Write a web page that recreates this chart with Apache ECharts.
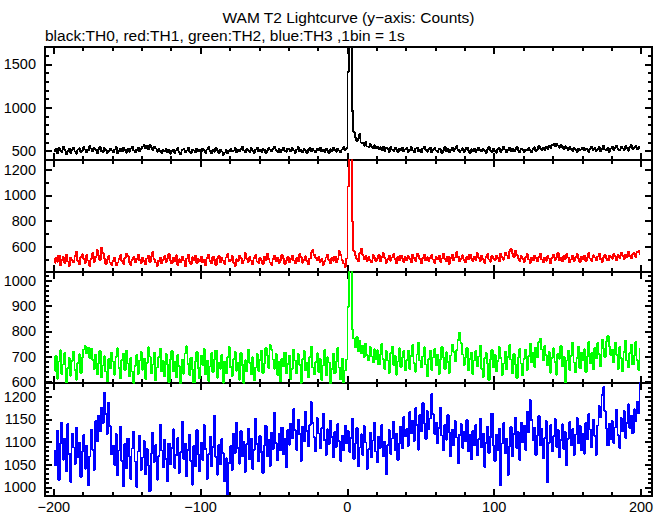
<!DOCTYPE html>
<html>
<head>
<meta charset="utf-8">
<script src="https://cdn.jsdelivr.net/npm/echarts@6/dist/echarts.min.js"></script>
<style>html,body{margin:0;padding:0;background:#fff}#c{width:669px;height:515px}#c svg path{shape-rendering:crispEdges}</style>
</head>
<body>
<div id="c"></div>
<script>
// ---- data (1 s bins, first bin starts at t = -200 s) ----
const binStart = -200;
const binWidth = 1;

const th0 = [
492,521,476,535,508,486,547,515,463,501,526,479,512,538,494,468,516,531,488,503,
542,517,482,509,556,528,495,536,511,471,522,549,500,490,533,510,478,497,529,504,
484,515,543,470,499,524,494,537,509,480,519,491,530,548,506,485,514,539,493,521,
553,571,534,562,518,567,541,512,549,529,492,520,502,476,514,495,525,486,508,469,
497,517,474,505,532,488,461,511,524,482,503,540,494,475,518,506,487,527,497,513,
489,530,508,480,517,543,500,471,511,491,532,503,478,515,494,455,484,509,470,497,
521,493,506,535,482,511,496,524,547,504,486,519,509,490,532,500,478,517,540,496,
508,489,527,512,475,503,535,516,494,523,553,511,491,520,482,509,541,501,490,529,
514,493,533,504,479,517,544,497,509,486,525,501,476,512,537,494,521,506,484,528,
504,541,496,516,489,530,509,480,521,500,536,512,491,526,504,484,518,545,513,535,
1410,1820,1760,960,715,652,612,646,695,598,588,561,602,551,546,579,548,533,566,527,
552,521,543,510,549,503,536,526,492,545,518,500,538,514,487,530,509,541,494,520,
533,491,515,546,505,482,526,540,497,514,488,530,550,509,492,521,538,481,512,532,
506,490,527,515,474,507,543,498,521,484,511,536,497,523,554,514,491,505,531,486,
513,540,502,476,519,500,530,489,509,537,514,493,524,503,480,518,542,508,488,526,
500,479,520,532,492,510,549,516,487,511,538,502,525,494,514,544,506,483,528,513,
491,518,505,533,509,482,524,543,500,515,556,528,508,537,514,549,524,560,535,570,
578,550,584,562,537,572,547,520,555,534,511,543,525,501,536,515,490,528,508,519,
541,505,530,515,492,524,550,511,533,503,520,545,497,524,558,516,507,536,489,527,
547,512,536,563,521,507,553,528,514,557,533,501,544,568,522,537,560,516,546,530
];

const th1 = [
470,511,483,532,455,498,519,475,540,486,449,514,497,478,525,560,490,462,518,541,
503,474,534,492,451,507,550,481,521,573,533,496,590,549,509,468,498,527,477,458,
487,515,455,476,502,535,491,466,512,548,525,482,457,497,520,476,506,539,495,472,
517,488,462,508,531,481,522,557,503,476,450,491,514,469,498,527,479,506,546,493,
470,513,490,533,458,502,477,523,493,447,508,540,482,468,518,495,532,474,503,488,
521,476,498,455,510,537,490,471,523,496,460,506,529,480,512,492,465,515,543,484,
498,527,475,449,503,488,532,511,469,493,550,507,481,520,492,461,510,535,486,474,
514,490,468,523,495,547,505,478,456,502,529,486,516,472,497,538,511,464,492,521,
480,506,531,493,469,513,487,542,518,475,498,526,489,462,508,553,575,537,511,494,
520,480,503,459,488,515,537,498,472,512,491,524,479,505,566,533,495,470,443,509,
1070,1360,1330,795,565,532,506,488,553,584,536,501,528,490,520,498,478,533,512,486,
509,535,485,518,550,513,474,505,530,491,516,543,502,470,522,497,532,509,481,519,
494,526,507,478,537,514,490,548,527,503,473,512,540,492,518,487,511,535,499,472,
520,501,531,482,509,545,504,489,524,466,513,538,493,516,558,522,486,506,533,496,
476,518,500,539,510,487,523,495,550,514,490,529,505,474,520,542,501,482,527,507,
494,531,512,486,545,520,499,556,533,508,562,584,548,522,570,537,511,489,526,503,
483,518,541,502,474,514,493,532,510,487,522,547,501,477,516,491,529,508,470,513,
537,497,519,549,493,510,485,526,505,543,515,477,501,531,489,518,544,507,482,521,
500,528,490,513,552,509,487,533,516,494,522,546,503,479,514,538,510,492,530,518,
507,545,525,494,536,514,554,530,502,539,519,560,527,509,541,551,521,558,566,540
];

const th2 = [
642,701,612,680,725,631,668,714,598,655,693,624,683,720,648,608,675,709,634,697,
728,742,713,736,694,731,686,651,708,629,674,722,617,664,701,641,601,690,653,716,
681,628,699,733,655,614,687,711,645,724,673,621,695,640,596,662,706,630,684,719,
648,692,611,675,737,700,633,669,716,605,656,697,731,642,682,622,709,667,599,690,
723,641,678,618,705,662,594,687,632,712,741,671,627,696,649,597,679,718,655,613,
703,666,729,629,684,603,660,714,639,690,724,616,674,652,707,596,681,633,697,738,
658,624,689,718,644,676,608,713,667,595,685,641,727,674,630,697,605,657,710,643,
685,723,636,673,734,704,654,745,727,688,652,709,627,678,601,692,661,716,633,671,
703,612,651,728,684,633,710,667,596,689,722,645,674,618,697,740,656,629,678,713,
640,690,607,664,726,625,697,676,590,652,711,633,681,735,657,610,692,598,645,688,
898,1060,1045,806,772,738,778,722,761,712,744,698,752,706,684,739,700,676,729,690,
725,668,707,751,689,651,721,684,636,713,740,667,702,628,680,733,657,696,722,645,
686,724,652,701,745,675,640,708,755,684,658,700,737,668,621,691,724,648,697,730,
664,708,632,688,739,697,651,717,679,635,704,748,719,681,726,765,795,753,708,667,
698,733,645,690,716,630,684,722,662,700,744,652,618,693,714,671,606,689,727,656,
708,641,682,737,693,627,673,719,650,698,746,688,634,709,668,614,695,730,672,625,
690,727,646,701,751,677,713,659,736,696,757,770,728,685,742,706,664,718,636,694,
733,678,628,712,691,742,660,699,598,684,724,648,703,756,676,637,695,739,653,715,
686,729,638,701,757,674,714,649,734,693,753,710,661,768,731,697,760,781,740,705,
727,676,755,706,650,737,694,641,719,764,684,656,713,748,668,703,757,685,648,731
];

const th3 = [
1082,1048,1125,1016,1097,1143,1061,1108,1035,1139,1074,1012,1119,1088,1051,1131,1067,1099,1023,1078,
1115,1041,1092,1004,1068,1127,1083,1039,1146,1101,1158,1123,1176,1141,1209,1162,1118,1187,1135,1073,
1092,1049,1117,1026,1081,1134,1058,1003,1095,1042,1108,1069,1018,1086,1123,1057,1001,1079,1114,1038,
1066,1102,1029,1085,1048,991,1074,1121,1056,1093,1017,1069,1138,1081,1044,1105,1062,1013,1097,1051,
1086,1128,1043,1071,1109,1032,1078,1145,1063,1097,1024,1082,1116,1058,1006,1091,1047,1126,1072,1035,
1099,1061,1137,1084,1019,1073,1112,1046,1089,1158,1067,1028,1094,1051,1107,1075,1013,1064,985,1053,
1091,1038,1118,1076,1143,1087,1052,1124,1069,1101,1034,1095,1129,1062,1108,1041,1083,1152,1096,1057,
1113,1078,1031,1092,1136,1069,1104,1047,1121,1085,1165,1098,1059,1117,1081,1132,1073,1106,1044,1127,
1094,1141,1108,1172,1126,1083,1149,1117,1058,1134,1101,1167,1125,1090,1138,1188,1142,1111,1079,1153,
1119,1086,1131,1163,1104,1072,1128,1095,1147,1111,1066,1122,1089,1139,1102,1058,1114,1081,1136,1097,
1124,1078,1109,1152,1063,1096,1131,1047,1088,1117,1072,1135,1099,1041,1084,1121,1066,1103,1143,1079,
1056,1112,1087,1138,1069,1101,1029,1093,1126,1074,1108,1145,1082,1119,1061,1097,1134,1086,1155,1113,
1128,1091,1166,1119,1147,1102,1175,1138,1083,1159,1124,1186,1141,1107,1168,1129,1152,1206,1161,1118,
1143,1097,1131,1176,1114,1082,1138,1105,1159,1121,1068,1127,1092,1146,1110,1053,1116,1139,1087,1123,
1101,1148,1079,1115,1062,1124,1093,1137,1071,1106,1152,1088,1119,1045,1098,1134,1076,1111,1163,1092,
1058,1116,1083,1129,1004,1097,1142,1075,1108,1027,1091,1133,1069,1118,1154,1087,1122,1061,1143,1099,
1136,1082,1167,1121,1193,1148,1104,1131,1072,1115,1157,1093,1128,1064,1109,1146,1011,1098,1137,1079,
1113,1151,1089,1126,1067,1104,1139,1085,1122,1048,1107,1144,1092,1128,1071,1116,1153,1097,1135,1081,
1119,1074,1142,1106,1161,1127,1088,1149,1113,1071,1136,1179,1154,1203,1221,1168,1129,1092,1141,1107,
1146,1098,1132,1171,1115,1087,1153,1124,1168,1109,1142,1183,1131,1158,1119,1172,1147,1189,1163,1232
];

// tick labels
const xMajorTicks = [-200, -100, 0, 100, 200];
const xMinorTicks = [-180,-160,-140,-120,-80,-60,-40,-20,20,40,60,80,120,140,160,180];
const yMajor0 = [500, 1000, 1500];
const yMinor0 = [400,600,700,800,900,1100,1200,1300,1400,1600];
const yMajor1 = [600, 800, 1000, 1200];
const yMinor1 = [500,700,900,1100];
const yMajor2 = [600, 700, 800, 900, 1000];
const yMinor2 = [620,640,660,680,720,740,760,780,820,840,860,880,920,940,960,980,1020];
const yMajor3 = [1000, 1050, 1100, 1150, 1200];
const yMinor3 = [990,1010,1020,1030,1040,1060,1070,1080,1090,1110,1120,1130,1140,1160,1170,1180,1190,1210,1220];

const titleText = 'WAM T2 Lightcurve (y\u2212axis: Counts)';
const subText = 'black:TH0, red:TH1, green:TH2, blue:TH3 ,1bin = 1s';

// ---- layout ----
const FONT = 'Liberation Sans';
const panels = [
  {vals: th0, color: '#000000', yMin: 396, yMax: 1699, major: yMajor0, minor: yMinor0, top: 47, height: 113},
  {vals: th1, color: '#ff0000', yMin: 403, yMax: 1276, major: yMajor1, minor: yMinor1, top: 160, height: 112},
  {vals: th2, color: '#00ff00', yMin: 595, yMax: 1036, major: yMajor2, minor: yMinor2, top: 272, height: 111},
  {vals: th3, color: '#0000ff', yMin: 981, yMax: 1230, major: yMajor3, minor: yMinor3, top: 383, height: 113}
];
const X_MIN = -206, X_MAX = 207.5;

const grids = [], xAxes = [], yAxes = [], series = [];
const tickStyle = {color: '#000', width: 1.5};

panels.forEach((p, g) => {
  grids.push({left: 45, width: 607, top: p.top, height: p.height, show: true,
    borderColor: '#000', borderWidth: 1.2, backgroundColor: 'transparent'});
  const mkX = (pos, ticks, len, labels) => ({
    gridIndex: g, type: 'value', min: X_MIN, max: X_MAX, position: pos,
    axisLine: {show: false, onZero: false}, splitLine: {show: false},
    axisTick: {show: true, inside: true, length: len, customValues: ticks, lineStyle: tickStyle},
    axisLabel: labels ? {show: true, customValues: ticks, margin: 5, color: '#000',
      fontFamily: FONT, fontSize: 14.5, lineHeight: 12,
      formatter: v => (v < 0 ? '\u2212' + Math.abs(v) : String(v))} : {show: false}
  });
  xAxes.push(mkX('bottom', xMajorTicks, 7, g === 3));
  xAxes.push(mkX('bottom', xMinorTicks, 4, false));
  xAxes.push(mkX('top', xMajorTicks, 7, false));
  xAxes.push(mkX('top', xMinorTicks, 4, false));
  const mkY = (pos, ticks, len, labels) => ({
    gridIndex: g, type: 'value', min: p.yMin, max: p.yMax, position: pos,
    axisLine: {show: false, onZero: false}, splitLine: {show: false},
    axisTick: {show: true, inside: true, length: len, customValues: ticks, lineStyle: tickStyle},
    axisLabel: labels ? {show: true, customValues: ticks, margin: 9, color: '#000',
      fontFamily: FONT, fontSize: 14.5, lineHeight: 12, formatter: v => String(v)} : {show: false}
  });
  yAxes.push(mkY('left', p.major, 7, true));
  yAxes.push(mkY('left', p.minor, 4, false));
  yAxes.push(mkY('right', p.major, 7, false));
  yAxes.push(mkY('right', p.minor, 4, false));
  const data = p.vals.map((v, i) => [binStart + (i + 0.5) * binWidth, v]);
  series.push({type: 'line', xAxisIndex: g * 4, yAxisIndex: g * 4, data,
    step: 'middle', showSymbol: false, symbol: 'none', clip: true, animation: false,
    lineStyle: {color: p.color, width: 1.7}, itemStyle: {color: p.color}});
});

const chart = echarts.init(document.getElementById('c'), null, {renderer: 'svg'});
chart.setOption({
  animation: false,
  backgroundColor: '#fff',
  graphic: [
    {type: 'text', x: 348.5, y: 17, style: {text: titleText, fill: '#000', font: '15.5px "Liberation Sans"',
      align: 'center', verticalAlign: 'middle'}},
    {type: 'text', x: 45, y: 35, style: {text: subText, fill: '#000', font: '15.5px "Liberation Sans"',
      align: 'left', verticalAlign: 'middle'}}
  ],
  grid: grids, xAxis: xAxes, yAxis: yAxes, series
});
</script>
</body>
</html>
